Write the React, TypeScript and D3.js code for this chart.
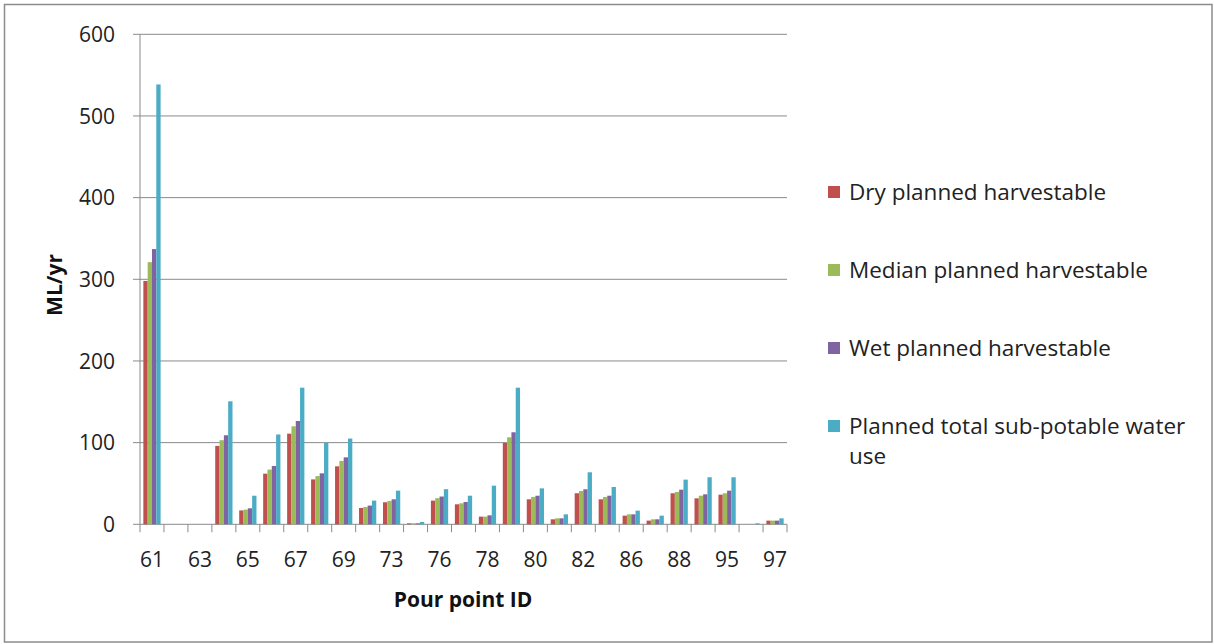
import React from "react";
import * as d3 from "d3";

const categories = ["61","62","63","64","65","66","67","68","69","71","73","74","76","77","78","79","80","81","82","84","86","87","88","89","95","96","97"];
const shownLabels = ["61","63","65","67","69","73","76","78","80","82","86","88","95","97"];
const dry = [298,0,0,96,17,62,111,55,71,20,27,1.2,29,24.5,9.4,99.6,30.6,6.1,38,30.6,10.6,4.5,38,31.8,36.3,0,4.5];
const median = [321,0,0,103,18,67,120,59,77.6,21.2,28.6,1.2,32,25.7,9.4,106.5,33.5,7.3,40.8,33.5,12.2,6.1,39.6,35,38,0,4.5];
const wet = [337,0,0,109,19.6,71.4,126.5,62.4,82,22.9,30.6,1.2,34,27.3,11,112.7,35,7.3,42.9,35,12.2,6.1,42.4,36.7,41.2,0,4.5];
const total = [538.6,0,0,150.6,35,110,167.3,100,105,29,41.2,2.9,43,35,47.3,167.3,44,12.2,63.7,45.7,16.7,10.6,54.7,57.6,57.6,1.2,7.3];
const seriesNames = ["Dry planned harvestable","Median planned harvestable","Wet planned harvestable","Planned total sub-potable water use"];
const seriesColors = ["#C0504D","#9BBB59","#8064A2","#4BACC6"];
const yTicks = [0,100,200,300,400,500,600];

const FONT = "'Open Sans', 'Noto Sans', sans-serif";

export default function App() {
  const W = 1214, H = 644;
  const left = 140, right = 787, top = 34.3, bottom = 524.3;
  const x = d3.scaleBand<string>().domain(categories).range([left, right]).paddingInner(0).paddingOuter(0);
  const y = d3.scaleLinear().domain([0, 600]).range([bottom, top]);
  const allSeries = [dry, median, wet, total];
  const groupW = x.bandwidth() * 0.72;
  const inner = d3.scaleBand<number>().domain([0,1,2,3]).range([0, groupW]);
  const offset = (x.bandwidth() - groupW) / 2;
  const gridColor = "#8a8a8a";

  return (
    <svg width={W} height={H} style={{ position: "absolute", left: 0, top: 0 }} fontFamily={FONT}>
      <rect x={0} y={0} width={W} height={H} fill="#fff" />
      <rect x={4.5} y={4.5} width={1207.5} height={637.5} fill="none" stroke="#8c8c8c" strokeWidth={1.5} />
      {yTicks.map((t) => (
        <g key={t}>
          <line x1={133} x2={right} y1={y(t)} y2={y(t)} stroke={gridColor} strokeWidth={1} />
          <text x={115} y={y(t)} dy="0.36em" textAnchor="end" fontSize={21} fill="#222">{t}</text>
        </g>
      ))}
      <line x1={left} x2={left} y1={top} y2={bottom} stroke={gridColor} strokeWidth={1} />
      {categories.map((c) => (
        <line key={"t" + c} x1={x(c)!} x2={x(c)!} y1={bottom} y2={bottom + 8} stroke={gridColor} strokeWidth={1} />
      ))}
      <line x1={right} x2={right} y1={bottom} y2={bottom + 8} stroke={gridColor} strokeWidth={1} />
      {allSeries.map((s, si) => (
        <g key={"s" + si} fill={seriesColors[si]}>
          {s.map((v, i) => (
            v > 0 ? (
              <rect key={i} x={x(categories[i])! + offset + inner(si)!} y={y(v)} width={inner.bandwidth()} height={bottom - y(v)} />
            ) : null
          ))}
        </g>
      ))}
      {shownLabels.map((c) => (
        <text key={"l" + c} x={x(c)! + x.bandwidth() / 2} y={567} textAnchor="middle" fontSize={21} fill="#222">{c}</text>
      ))}
      <text x={463} y={607} textAnchor="middle" fontSize={21} fontWeight="bold" fill="#111">Pour point ID</text>
      <text transform="translate(62,285) rotate(-90)" textAnchor="middle" fontSize={21} fontWeight="bold" fill="#111">ML/yr</text>
      {seriesNames.map((n, i) => {
        const cy = 192 + i * 78;
        return (
          <g key={"lg" + i}>
            <rect x={828} y={cy - 6} width={12} height={12} fill={seriesColors[i]} />
            {i < 3 ? (
              <text x={849} y={cy} dy="0.35em" fontSize={22.5} fill="#222">{n}</text>
            ) : (
              <text x={849} y={cy} dy="0.35em" fontSize={22.5} fill="#222">
                <tspan x={849}>Planned total sub-potable water</tspan>
                <tspan x={849} dy={30}>use</tspan>
              </text>
            )}
          </g>
        );
      })}
    </svg>
  );
}
